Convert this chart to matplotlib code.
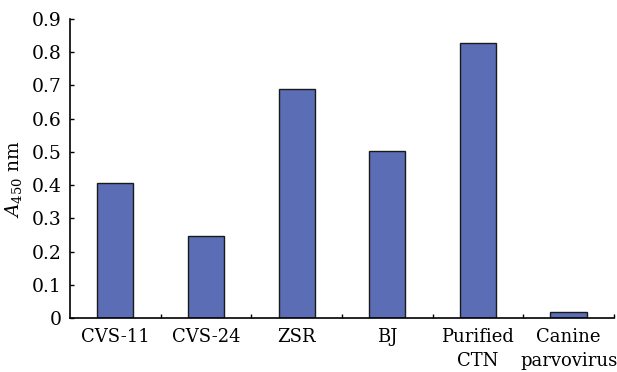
import matplotlib.pyplot as plt
import numpy as np

plt.rcParams['font.family'] = ['DejaVu Serif']
plt.rcParams['mathtext.fontset'] = 'dejavuserif'

labels = ["CVS-11", "CVS-24", "ZSR", "BJ", "Purified\nCTN", "Canine\nparvovirus"]
values = [0.405, 0.247, 0.689, 0.503, 0.828, 0.019]

fig = plt.figure(figsize=(6.17, 3.72), dpi=100)
ax = fig.add_axes([0.1135, 0.145, 0.8815, 0.804])

x = np.arange(len(labels))
ax.bar(x, values, width=0.4, color="#5a6db5", edgecolor="#1a1a1a", linewidth=1.0)

ax.set_xlim(-0.5, len(labels) - 0.5)
ax.set_ylim(0, 0.9)
ax.set_yticks(np.arange(0, 0.91, 0.1))
ax.set_yticklabels(["0"] + ["%.1f" % v for v in np.arange(0.1, 0.91, 0.1)])

# ticks at category boundaries, labels at centres
ax.set_xticks(np.arange(0.5, len(labels), 1.0))
ax.set_xticklabels([])
ax.set_xticks(x, labels, minor=True)
ax.tick_params(axis="x", which="major", direction="in", length=3, width=1)
ax.tick_params(axis="x", which="minor", length=0, pad=7, labelsize=13)
ax.tick_params(axis="y", direction="in", length=3, width=1, labelsize=13.5, pad=6)

for lab in ax.get_xticklabels(minor=True):
    lab.set_linespacing(1.45)

ax.spines["top"].set_visible(False)
ax.spines["right"].set_visible(False)
ax.spines["left"].set_linewidth(1.2)
ax.spines["bottom"].set_linewidth(1.2)

ax.set_ylabel("$A_{450}$ nm", fontsize=13.5)
ax.yaxis.set_label_coords(-0.085, 0.465)

fig.savefig("out.png", dpi=100)
